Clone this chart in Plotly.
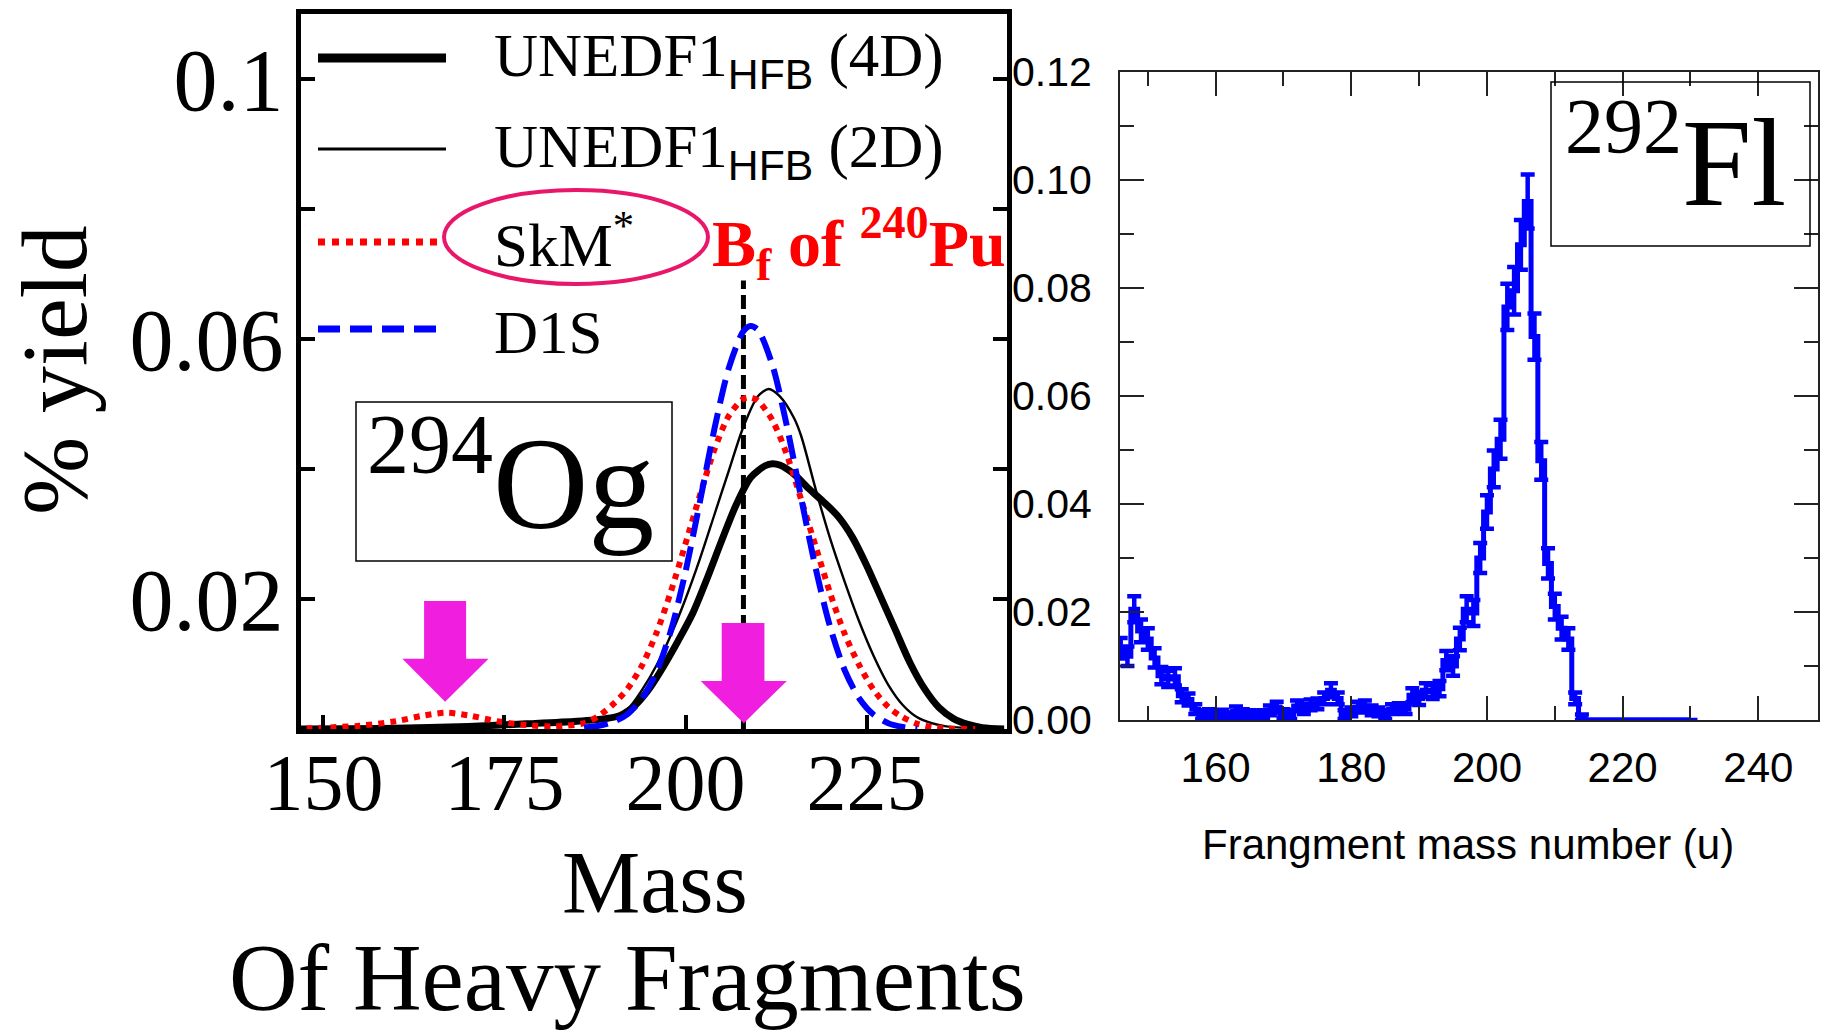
import plotly.graph_objects as go

W, H = 1825, 1031
SERIF = "Liberation Serif, Times New Roman, serif"
SANS = "Liberation Sans, Arial, sans-serif"

# ---------------- 294Og: calculated heavy-fragment yields ----------------
mass_4d = [146, 160, 170, 178, 185, 189, 191, 193, 195, 197, 199, 201, 203, 205, 207,
           209, 211, 212, 213, 215, 217, 219, 221, 223, 225, 227, 229, 231, 233, 235,
           237, 239, 241, 244]
yield_4d = [0.0000, 0.0001, 0.0004, 0.0008, 0.0012, 0.0016, 0.0021, 0.0036, 0.0062, 0.0097,
            0.0136, 0.0178, 0.0232, 0.0290, 0.0345, 0.0387, 0.0405, 0.0408, 0.0406, 0.0392,
            0.0370, 0.0350, 0.0328, 0.0296, 0.0252, 0.0202, 0.0152, 0.0102, 0.0062, 0.0033,
            0.0016, 0.0007, 0.0002, 0.0000]

mass_2d = [146, 170, 180, 187, 190, 192, 194, 196, 198, 200, 202, 204, 206, 208, 210,
           211.5, 213, 215, 216, 218, 220, 222, 224, 226, 228, 230, 232, 234, 236, 240, 244]
yield_2d = [0.0000, 0.0003, 0.0008, 0.0012, 0.0016, 0.0030, 0.0060, 0.0098, 0.0145, 0.0200,
            0.0262, 0.0330, 0.0398, 0.0465, 0.0512, 0.0523, 0.0512, 0.0478, 0.0450, 0.0368,
            0.0292, 0.0226, 0.0165, 0.0112, 0.0068, 0.0037, 0.0018, 0.0009, 0.0004, 0.0001,
            0.0000]

mass_skm = [146, 150, 155, 160, 164, 167, 170, 174, 178, 182, 186, 188, 190, 192, 194, 196,
            198, 200, 202, 204, 206, 208, 209, 210, 212, 214, 216, 218, 220, 222, 224, 226,
            228, 230, 232, 234, 236, 240]
yield_skm = [0.0000, 0.0002, 0.0005, 0.0012, 0.0021, 0.0025, 0.0021, 0.0012, 0.0006, 0.0004,
             0.0009, 0.0020, 0.0038, 0.0062, 0.0098, 0.0148, 0.0212, 0.0285, 0.0360, 0.0430,
             0.0482, 0.0508, 0.0510, 0.0505, 0.0475, 0.0422, 0.0352, 0.0280, 0.0208, 0.0146,
             0.0098, 0.0060, 0.0034, 0.0018, 0.0008, 0.0003, 0.0001, 0.0000]

mass_d1s = [186, 188, 190, 192, 194, 196, 198, 200, 202, 204, 206, 208, 209, 210, 212, 214,
            216, 218, 220, 222, 224, 226, 228, 230, 232]
yield_d1s = [0.0002, 0.0005, 0.0011, 0.0023, 0.0047, 0.0088, 0.0152, 0.0242, 0.0350, 0.0462,
             0.0556, 0.0612, 0.0620, 0.0614, 0.0560, 0.0466, 0.0354, 0.0246, 0.0156, 0.0090,
             0.0047, 0.0022, 0.0009, 0.0003, 0.0000]

barrier_mass = 208        # B_f of 240Pu marker
barrier_top = 0.069

# ---------------- 292Fl: measured fragment mass distribution ----------------
fl_mass = list(range(146, 231))
fl_yield = [0.0133, 0.0118, 0.0205, 0.0165, 0.0150, 0.0115, 0.0082, 0.0076, 0.0080, 0.0045,
            0.0038, 0.0020, 0.0010, 0.0012, 0.0008, 0.0011, 0.0007, 0.0016, 0.0012, 0.0010,
            0.0007, 0.0010, 0.0018, 0.0024, 0.0012, 0.0010, 0.0026, 0.0020, 0.0028, 0.0030,
            0.0040, 0.0055, 0.0040, 0.0010, 0.0015, 0.0024, 0.0026, 0.0018, 0.0015, 0.0010,
            0.0020, 0.0022, 0.0020, 0.0046, 0.0040, 0.0055, 0.0052, 0.0058, 0.0110, 0.0100,
            0.0150, 0.0205, 0.0198, 0.0300, 0.0385, 0.0465, 0.0520, 0.0765, 0.0795, 0.0880,
            0.0960, 0.0710, 0.0480, 0.0290, 0.0210, 0.0170, 0.0150, 0.0040, 0.0005, 0.0,
            0.0, 0.0, 0.0, 0.0, 0.0, 0.0, 0.0, 0.0, 0.0, 0.0,
            0.0, 0.0, 0.0, 0.0, 0.0]
fl_err = [0.0019, 0.0018, 0.0024, 0.0021, 0.0020, 0.0018, 0.0016, 0.0015, 0.0016, 0.0012,
          0.0011, 0.0009, 0.0008, 0.0008, 0.0007, 0.0008, 0.0007, 0.0009, 0.0008, 0.0008,
          0.0007, 0.0008, 0.0009, 0.0010, 0.0008, 0.0008, 0.0010, 0.0009, 0.0010, 0.0010,
          0.0011, 0.0013, 0.0011, 0.0008, 0.0008, 0.0010, 0.0010, 0.0009, 0.0008, 0.0008,
          0.0009, 0.0009, 0.0009, 0.0013, 0.0012, 0.0013, 0.0013, 0.0014, 0.0018, 0.0018,
          0.0021, 0.0024, 0.0024, 0.0028, 0.0031, 0.0034, 0.0036, 0.0043, 0.0044, 0.0046,
          0.0050, 0.0043, 0.0035, 0.0028, 0.0024, 0.0021, 0.0020, 0.0011, 0.0005, 0.0,
          0.0, 0.0, 0.0, 0.0, 0.0, 0.0, 0.0, 0.0, 0.0, 0.0,
          0.0, 0.0, 0.0, 0.0, 0.0]


def px(x):
    """pixel column -> paper x"""
    return x / W


def py(y):
    """pixel row (from top) -> paper y"""
    return 1 - y / H


fig = go.Figure()

# left panel curves
fig.add_trace(go.Scatter(x=[barrier_mass, barrier_mass], y=[0, barrier_top], mode="lines",
                         line=dict(color="black", width=5, dash="14px,6px"),
                         xaxis="x", yaxis="y", showlegend=False))
fig.add_trace(go.Scatter(x=mass_4d, y=yield_4d, mode="lines",
                         line=dict(color="black", width=7, shape="spline", smoothing=0.8),
                         xaxis="x", yaxis="y", showlegend=False))
fig.add_trace(go.Scatter(x=mass_2d, y=yield_2d, mode="lines",
                         line=dict(color="black", width=2.4, shape="spline", smoothing=0.8),
                         xaxis="x", yaxis="y", showlegend=False))
fig.add_trace(go.Scatter(x=mass_skm, y=yield_skm, mode="lines",
                         line=dict(color="#ff0000", width=6, dash="dot", shape="spline",
                                   smoothing=0.8),
                         xaxis="x", yaxis="y", showlegend=False))
fig.add_trace(go.Scatter(x=mass_d1s, y=yield_d1s, mode="lines",
                         line=dict(color="#0000ff", width=6, dash="24px,10px", shape="spline",
                                   smoothing=0.8),
                         xaxis="x", yaxis="y", showlegend=False))

# right panel: stepped histogram with error bars
fig.add_trace(go.Scatter(x=fl_mass, y=fl_yield, mode="lines",
                         line=dict(color="#0000ff", width=5, shape="hvh"),
                         error_y=dict(type="data", array=fl_err, visible=True,
                                      color="#0000ff", thickness=4.5, width=7),
                         xaxis="x2", yaxis="y2", showlegend=False))

shapes = []
annotations = []

# magenta arrows marking the two heavy-fragment regions
ARROW = "#f01fe0"
arrow_specs = [
    # shaft x0, shaft x1, shaft top, head base, head x0, head x1, tip x, tip y
    (163.9, 169.7, 0.0197, 0.0108, 160.9, 172.8, 166.8, 0.0042),
    (205.0, 210.9, 0.0163, 0.0074, 202.1, 214.0, 208.05, 0.0009),
]
for sx0, sx1, top, base, hx0, hx1, tx, ty in arrow_specs:
    path = (f"M {sx0},{top} L {sx1},{top} L {sx1},{base} L {hx1},{base} "
            f"L {tx},{ty} L {hx0},{base} L {sx0},{base} Z")
    shapes.append(dict(type="path", path=path, xref="x", yref="y", fillcolor=ARROW,
                       line=dict(width=0), layer="above"))

# legend samples
HFB = "<sub><span style='font-family:Liberation Sans'>HFB</span></sub>"
legend_rows = [
    (58, dict(color="black", width=9), "UNEDF1" + HFB + " (4D)"),
    (149, dict(color="black", width=3), "UNEDF1" + HFB + " (2D)"),
    (242, dict(color="#ff0000", width=7, dash="dot"), "SkM<sup>*</sup>"),
    (329, dict(color="#0000ff", width=7, dash="22px,10px"), "D1S"),
]
text_rows = [60, 151, 240, 332]
for (ly, lstyle, label), ty in zip(legend_rows, text_rows):
    shapes.append(dict(type="line", xref="paper", yref="paper", x0=px(318), x1=px(446),
                       y0=py(ly), y1=py(ly), line=lstyle))
    annotations.append(dict(text=label, xref="paper", yref="paper", x=px(492), y=py(ty),
                            xanchor="left", yanchor="middle", showarrow=False,
                            font=dict(family=SERIF, size=61, color="black")))

# ellipse around SkM*
shapes.append(dict(type="circle", xref="paper", yref="paper", x0=px(444), x1=px(708),
                   y0=py(284), y1=py(190), line=dict(color="#e8176a", width=4)))

annotations.append(dict(text="<b>B<sub>f</sub> of <sup>240</sup>Pu</b>", xref="paper",
                        yref="paper", x=px(710), y=py(243), xanchor="left", yanchor="middle",
                        showarrow=False, font=dict(family=SERIF, size=66, color="#ff0000")))

# nucleus label boxes
shapes.append(dict(type="rect", xref="paper", yref="paper", x0=px(356), x1=px(672),
                   y0=py(561), y1=py(402), line=dict(color="black", width=1.5)))
annotations.append(dict(text="<sup><span style='font-size:84px'>294</span></sup>Og",
                        xref="paper", yref="paper", x=px(510), y=py(478), xanchor="center",
                        yanchor="middle", showarrow=False,
                        font=dict(family=SERIF, size=132, color="black")))
shapes.append(dict(type="rect", xref="paper", yref="paper", x0=px(1551), x1=px(1810),
                   y0=py(246), y1=py(82), line=dict(color="black", width=1.5)))
annotations.append(dict(text="<sup><span style='font-size:78px'>292</span></sup>Fl",
                        xref="paper", yref="paper", x=px(1675), y=py(157), xanchor="center",
                        yanchor="middle", showarrow=False,
                        font=dict(family=SERIF, size=125, color="black")))

# axis titles
annotations.append(dict(text="% yield", xref="paper", yref="paper", x=px(54), y=py(370),
                        textangle=-90, xanchor="center", yanchor="middle", showarrow=False,
                        font=dict(family=SERIF, size=94, color="black")))
annotations.append(dict(text="Mass", xref="paper", yref="paper", x=px(655), y=py(882),
                        xanchor="center", yanchor="middle", showarrow=False,
                        font=dict(family=SERIF, size=88, color="black")))
annotations.append(dict(text="Of Heavy Fragments", xref="paper", yref="paper", x=px(627),
                        y=py(978), xanchor="center", yanchor="middle", showarrow=False,
                        font=dict(family=SERIF, size=95, color="black")))
annotations.append(dict(text="Frangment mass number (u)", xref="paper", yref="paper",
                        x=px(1468), y=py(844), xanchor="center", yanchor="middle",
                        showarrow=False, font=dict(family=SANS, size=42, color="black")))

fig.update_layout(
    width=W, height=H, margin=dict(l=0, r=0, t=0, b=0, pad=0, autoexpand=False),
    paper_bgcolor="white", plot_bgcolor="white", showlegend=False,
    shapes=shapes, annotations=annotations,
    xaxis=dict(domain=[px(301), px(1007)], range=[146.9, 244.4], anchor="y", automargin=False,
               tickvals=[150, 175, 200, 225], ticks="inside", ticklen=14, tickwidth=4,
               tickcolor="black", showline=True, linewidth=5, linecolor="black", mirror=True,
               showgrid=False, zeroline=False, ticklabelstandoff=-20,
               tickfont=dict(family=SERIF, size=80, color="black")),
    yaxis=dict(domain=[py(729), py(14)], range=[0, 0.11], anchor="x", automargin=False,
               tickvals=[0.02, 0.04, 0.06, 0.08, 0.1],
               ticktext=["0.02", "", "0.06", "", "0.1"],
               ticks="inside", ticklen=14, tickwidth=4, tickcolor="black",
               showline=True, linewidth=5, linecolor="black", mirror="ticks",
               showgrid=False, zeroline=False, ticklabelstandoff=-5,
               tickfont=dict(family=SERIF, size=88, color="black")),
    xaxis2=dict(domain=[px(1120), px(1818)], range=[145.9, 248.8], anchor="y2",
                automargin=False,
                tick0=0, dtick=20, ticks="inside", ticklen=24, tickwidth=2, tickcolor="#222",
                minor=dict(dtick=10, ticklen=14, tickwidth=2, tickcolor="#222", ticks="inside"),
                showline=True, linewidth=2, linecolor="#222", mirror="ticks",
                showgrid=False, zeroline=False, ticklabelstandoff=10,
                tickfont=dict(family=SANS, size=42, color="black")),
    yaxis2=dict(domain=[py(720), py(72)], range=[0, 0.12], anchor="x2", automargin=False,
                tick0=0, dtick=0.02, tickformat=".2f", ticks="inside", ticklen=24,
                tickwidth=2, tickcolor="#222",
                minor=dict(dtick=0.01, ticklen=14, tickwidth=2, tickcolor="#222", ticks="inside"),
                showline=True, linewidth=2, linecolor="#222", mirror="ticks",
                showgrid=False, zeroline=False, ticklabelstandoff=18,
                tickfont=dict(family=SANS, size=41, color="black")),
)

fig.write_html("out.html", config={"displayModeBar": False},
               post_script="document.body.style.margin='0';")
